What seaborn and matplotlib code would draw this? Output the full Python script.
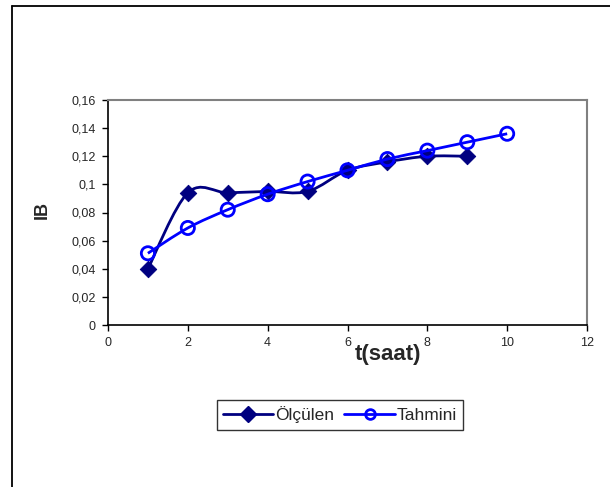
import numpy as np
import pandas as pd
import matplotlib
matplotlib.use('Agg')
import matplotlib.pyplot as plt
import seaborn as sns
from matplotlib.path import Path
from matplotlib.patches import PathPatch
from matplotlib.lines import Line2D
from matplotlib.ticker import FuncFormatter, MultipleLocator

# データ
t_olculen = [1, 2, 3, 4, 5, 6, 7, 8, 9]
ib_olculen = [0.040, 0.094, 0.094, 0.095, 0.095, 0.110, 0.116, 0.120, 0.120]
t_tahmini = [1, 2, 3, 4, 5, 6, 7, 8, 9, 10]
ib_tahmini = [0.051, 0.069, 0.082, 0.093, 0.102, 0.110, 0.118, 0.124, 0.130, 0.136]

navy = '#000080'
blue = '#0000FF'

sns.set_style('white')
plt.rcParams['font.family'] = ['Liberation Sans', 'DejaVu Sans']


def smooth_path(xs, ys):
    # Excel風のスムージング（ベジェ曲線）
    pts = np.column_stack([xs, ys]).astype(float)
    n = len(pts)
    verts = [pts[0]]
    codes = [Path.MOVETO]
    for i in range(n - 1):
        p0 = pts[i - 1] if i > 0 else pts[i]
        p1 = pts[i]
        p2 = pts[i + 1]
        p3 = pts[i + 2] if i + 2 < n else pts[i + 1]
        c1 = p1 + (p2 - p0) / 6
        c2 = p2 - (p3 - p1) / 6
        verts += [c1, c2, p2]
        codes += [Path.CURVE4] * 3
    return Path(verts, codes)


fig = plt.figure(figsize=(6.1, 4.87), dpi=100)
ax = fig.add_axes([108 / 610, 1 - 325 / 487, 479 / 610, 225 / 487])

ax.add_patch(PathPatch(smooth_path(t_olculen, ib_olculen), fill=False,
                       edgecolor=navy, lw=2, zorder=2))
sns.scatterplot(x=t_olculen, y=ib_olculen, ax=ax, marker='D', s=70,
                color=navy, edgecolor=navy, zorder=3)
ax.add_patch(PathPatch(smooth_path(t_tahmini, ib_tahmini), fill=False,
                       edgecolor=blue, lw=2, zorder=4))
sns.scatterplot(x=t_tahmini, y=ib_tahmini, ax=ax, marker='o', s=90,
                facecolor='white', edgecolor=blue, linewidth=2, zorder=5)
# 白抜きの円（中を透過）
ax.collections[-1].set_facecolor('none')

ax.set_xlim(0, 12)
ax.set_ylim(0, 0.16)
ax.xaxis.set_major_locator(MultipleLocator(2))
ax.yaxis.set_major_locator(MultipleLocator(0.02))

fmt = FuncFormatter(lambda v, p: ('%g' % round(v, 4)).replace('.', ','))
ax.xaxis.set_major_formatter(fmt)
ax.yaxis.set_major_formatter(fmt)

ax.tick_params(axis='both', direction='out', length=4, width=1, color='black',
               labelsize=9, bottom=True, left=True, pad=5)
for s in ['left', 'bottom']:
    ax.spines[s].set_color('black')
    ax.spines[s].set_linewidth(1.2)
for s in ['top', 'right']:
    ax.spines[s].set_color('#808080')
    ax.spines[s].set_linewidth(1.5)

ax.set_xlabel('t(saat)', fontsize=16, fontweight='bold')
ax.xaxis.set_label_coords(0.585, -0.129)
ax.xaxis.label.set_va('center')
ax.set_ylabel('IB', fontsize=13, fontweight='bold')
ax.yaxis.set_label_coords(-0.137, 0.513)
ax.yaxis.label.set_va('center')

handles = [
    Line2D([], [], color=navy, lw=2, marker='D', markersize=8,
           markerfacecolor=navy, markeredgecolor=navy),
    Line2D([], [], color=blue, lw=2, marker='o', markersize=7,
           markerfacecolor='none', markeredgecolor=blue, markeredgewidth=2),
]
leg = ax.legend(handles, ['Ölçülen', 'Tahmini'], loc='center',
                bbox_to_anchor=(0.484, -0.40), ncol=2, fontsize=12.5,
                frameon=True, fancybox=False, handlelength=2.9,
                columnspacing=0.6, handletextpad=0.1, borderpad=0.35)
leg.get_frame().set_edgecolor('black')
leg.get_frame().set_linewidth(1)

# グラフ領域の枠線
fig.add_artist(Line2D([11.5 / 610, 11.5 / 610], [0, 1 - 5.5 / 487],
                      color='black', lw=1.3, transform=fig.transFigure))
fig.add_artist(Line2D([11.5 / 610, 1], [1 - 5.5 / 487, 1 - 5.5 / 487],
                      color='black', lw=1.3, transform=fig.transFigure))

fig.savefig('out.png', dpi=100)
